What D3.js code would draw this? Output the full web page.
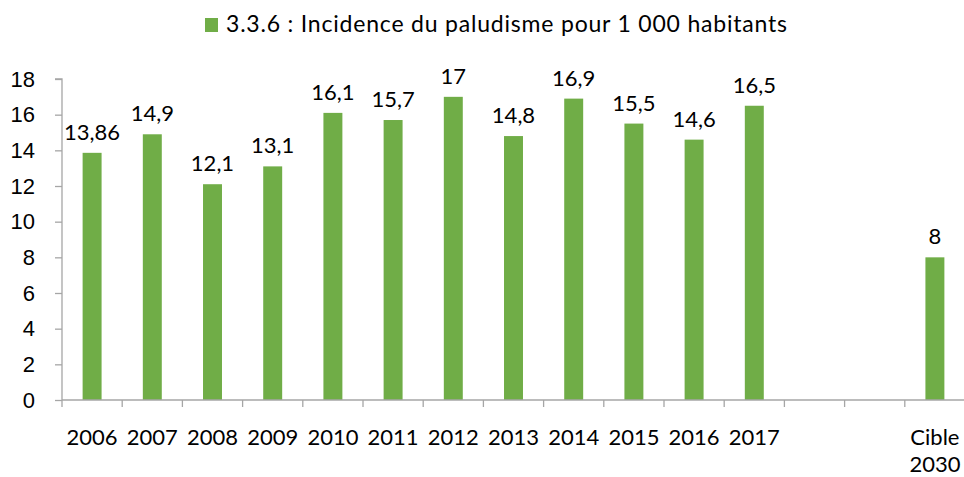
<!DOCTYPE html>
<html>
<head>
<meta charset="utf-8">
<script src="https://cdn.jsdelivr.net/npm/d3@7"></script>
<style>
  body { margin: 0; background: #fff; }
  svg { display: block; font-family: Lato, "Open Sans", sans-serif; }
</style>
</head>
<body>
<div id="chart"></div>
<script>
// categories (two blank slots before the 2030 target)
const categories = ["2006", "2007", "2008", "2009", "2010", "2011", "2012",
  "2013", "2014", "2015", "2016", "2017", "vide1", "vide2", "cible"];
const tickLabels = [["2006"], ["2007"], ["2008"], ["2009"], ["2010"], ["2011"], ["2012"],
  ["2013"], ["2014"], ["2015"], ["2016"], ["2017"], [""], [""], ["Cible", "2030"]];
const values = [13.86, 14.9, 12.1, 13.1, 16.1, 15.7, 17, 14.8, 16.9, 15.5, 14.6, 16.5, null, null, 8];
const yTicks = [0, 2, 4, 6, 8, 10, 12, 14, 16, 18];
const seriesName = "3.3.6 : Incidence du paludisme pour 1 000 habitants";

const width = 964, height = 477;
const margins = {top: 79, right: -1, bottom: 77, left: 62};
const green = "#70ad47";
const axisColor = "#a6a6a6";
const fontSize = "22px";

const svg = d3.select("#chart")
  .append("svg")
    .attr("width", width)
    .attr("height", height);

const xScale = d3.scaleBand()
  .domain(categories)
  .range([margins.left, width - margins.right])
  .paddingInner(0.685)
  .paddingOuter(0.3425);

const yScale = d3.scaleLinear()
  .domain([0, 18])
  .range([height - margins.bottom, margins.top]);

const fmt = v => String(v).replace(".", ",");

/* bars */
const data = categories.map((c, i) => ({cat: c, value: values[i]}))
  .filter(d => d.value !== null);

svg.selectAll("rect.bar")
  .data(data)
  .join("rect")
    .attr("class", "bar")
    .attr("x", d => xScale(d.cat))
    .attr("width", xScale.bandwidth())
    .attr("y", d => yScale(d.value))
    .attr("height", d => yScale(0) - yScale(d.value))
    .style("fill", green);

/* y axis */
const yAxis = d3.axisLeft(yScale)
  .tickValues(yTicks)
  .tickSize(7)
  .tickPadding(20)
  .tickFormat(d => d);

const yGroup = svg.append("g")
  .attr("transform", `translate(${margins.left},0)`)
  .call(yAxis);
yGroup.select(".domain").attr("d", `M-7,${yScale(18)}H0V${yScale(0)}`);

/* x axis, ticks on band edges */
const xAxis = d3.axisBottom(xScale).tickSize(0).tickFormat("");
const xGroup = svg.append("g")
  .attr("transform", `translate(0,${height - margins.bottom})`)
  .call(xAxis);
xGroup.select(".domain").attr("d", `M${margins.left},0H${width}`);

xGroup.selectAll("line.edge")
  .data(categories)
  .join("line")
    .attr("class", "edge")
    .attr("x1", d => xScale(d) - xScale.step() * xScale.paddingInner() / 2)
    .attr("x2", d => xScale(d) - xScale.step() * xScale.paddingInner() / 2)
    .attr("y1", 0)
    .attr("y2", 7);

svg.selectAll(".domain, .tick line, line.edge")
  .attr("stroke", axisColor)
  .attr("stroke-width", 1.3);

svg.selectAll(".tick text")
  .style("font-size", fontSize)
  .style("fill", "#000");

/* category labels */
svg.append("g")
  .selectAll("text")
  .data(categories)
  .join("text")
    .attr("x", d => xScale(d) + xScale.bandwidth() / 2)
    .attr("y", 445)
    .attr("text-anchor", "middle")
    .style("font-size", fontSize)
    .style("fill", "#000")
    .each(function(d, i) {
      d3.select(this).selectAll("tspan")
        .data(tickLabels[i])
        .join("tspan")
          .attr("x", xScale(d) + xScale.bandwidth() / 2)
          .attr("dy", (t, j) => j === 0 ? 0 : 27)
          .text(t => t);
    });

/* value labels */
svg.selectAll("text.value")
  .data(data)
  .join("text")
    .attr("class", "value")
    .attr("x", d => xScale(d.cat) + xScale.bandwidth() / 2)
    .attr("y", d => yScale(d.value) - 13)
    .attr("text-anchor", "middle")
    .style("font-size", fontSize)
    .style("fill", "#000")
    .text(d => fmt(d.value));

/* legend */
const legend = svg.append("g");
legend.append("rect")
  .attr("x", 205)
  .attr("y", 18)
  .attr("width", 13)
  .attr("height", 14)
  .style("fill", green);
legend.append("text")
  .attr("x", 226)
  .attr("y", 32)
  .style("font-size", "23px")
  .style("letter-spacing", "0.8px")
  .style("fill", "#000")
  .text(seriesName);
</script>
</body>
</html>
